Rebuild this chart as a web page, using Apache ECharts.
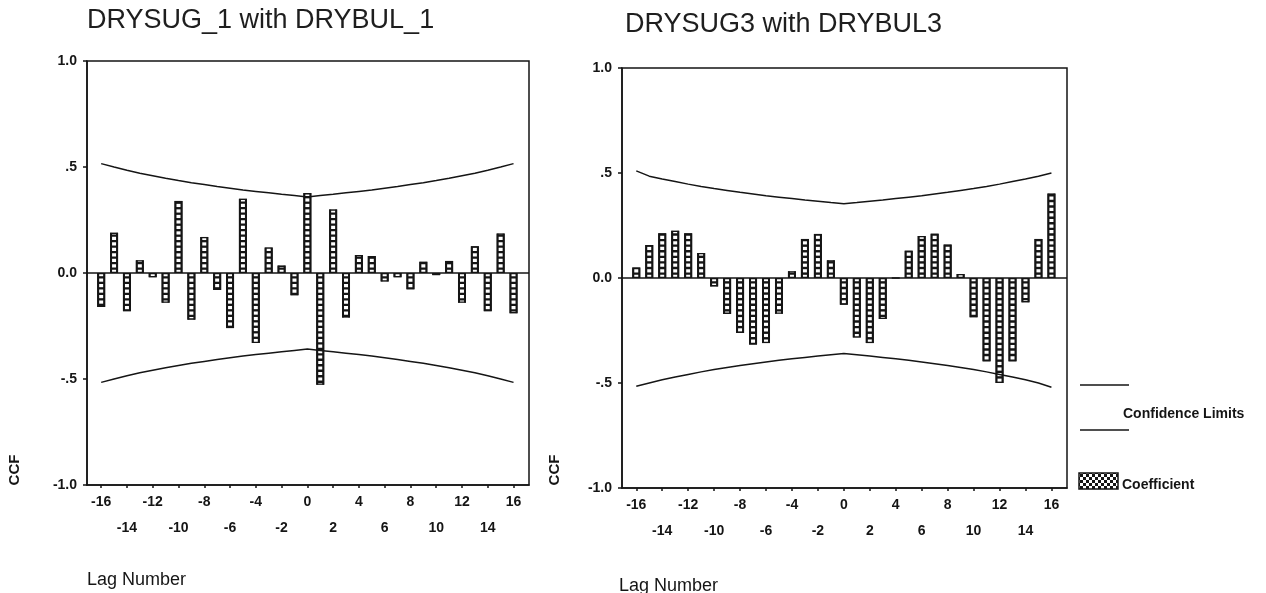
<!DOCTYPE html>
<html>
<head>
<meta charset="utf-8">
<script src="https://cdn.jsdelivr.net/npm/echarts@6/dist/echarts.min.js"></script>
<style>
  html, body { margin: 0; padding: 0; background: #ffffff; }
  #chart { width: 1266px; height: 593px; }
</style>
</head>
<body>
<div id="chart"></div>
<script>
// Lags shown on both cross-correlation plots
const lags = [-16,-15,-14,-13,-12,-11,-10,-9,-8,-7,-6,-5,-4,-3,-2,-1,0,1,2,3,4,5,6,7,8,9,10,11,12,13,14,15,16];
const lagTicks = [-16,-14,-12,-10,-8,-6,-4,-2,0,2,4,6,8,10,12,14,16];

// DRYSUG_1 with DRYBUL_1
const ccf1 = [-0.16, 0.19, -0.18, 0.06, -0.02, -0.14, 0.34, -0.22, 0.17, -0.08, -0.26, 0.35, -0.33, 0.12, 0.035, -0.105,
              0.377, -0.527, 0.30, -0.21, 0.085, 0.08, -0.04, -0.02, -0.077, 0.053, -0.01, 0.057, -0.14, 0.126, -0.18, 0.186, -0.19];
const upper1 = [0.516, 0.500, 0.485, 0.471, 0.459, 0.447, 0.436, 0.426, 0.417, 0.408, 0.400, 0.392, 0.385, 0.378, 0.371, 0.365,
                0.359, 0.365, 0.371, 0.378, 0.385, 0.392, 0.400, 0.408, 0.417, 0.426, 0.436, 0.447, 0.459, 0.471, 0.485, 0.500, 0.516];
const lower1 = [-0.516, -0.500, -0.485, -0.471, -0.459, -0.447, -0.436, -0.426, -0.417, -0.408, -0.400, -0.392, -0.385, -0.378, -0.371, -0.365,
                -0.359, -0.365, -0.371, -0.378, -0.385, -0.392, -0.400, -0.408, -0.417, -0.426, -0.436, -0.447, -0.459, -0.471, -0.485, -0.500, -0.516];

// DRYSUG3 with DRYBUL3
const ccf3 = [0.05, 0.157, 0.213, 0.225, 0.213, 0.119, -0.04, -0.171, -0.262, -0.317, -0.31, -0.17, 0.032, 0.186, 0.21, 0.084,
              -0.127, -0.283, -0.31, -0.195, 0.0, 0.13, 0.20, 0.211, 0.159, 0.019, -0.187, -0.397, -0.5, -0.397, -0.116, 0.186, 0.402];
const upper3 = [0.510, 0.485, 0.471, 0.459, 0.447, 0.436, 0.426, 0.417, 0.408, 0.400, 0.392, 0.385, 0.378, 0.371, 0.365, 0.359,
                0.354, 0.359, 0.365, 0.371, 0.378, 0.385, 0.392, 0.400, 0.408, 0.417, 0.426, 0.436, 0.447, 0.459, 0.471, 0.485, 0.500];
const lower3 = [-0.515, -0.500, -0.485, -0.471, -0.459, -0.447, -0.436, -0.426, -0.417, -0.408, -0.400, -0.392, -0.385, -0.378, -0.371, -0.365,
                -0.360, -0.365, -0.371, -0.378, -0.385, -0.392, -0.400, -0.408, -0.417, -0.426, -0.436, -0.447, -0.459, -0.471, -0.485, -0.500, -0.520];

const titles = ['DRYSUG_1 with DRYBUL_1', 'DRYSUG3 with DRYBUL3'];
const yTickText = { '1': '1.0', '0.5': '.5', '0': '0.0', '-0.5': '-.5', '-1': '-1.0' };
const yName = 'CCF';
const xName = 'Lag Number';
const legendLimits = 'Confidence Limits';
const legendCoef = 'Coefficient';

const INK = '#151515';
const FONT = '"Liberation Sans", Arial, sans-serif';

function pairs(values) { return lags.map((l, i) => [l, values[i]]); }

// checkered fill for the legend swatch
function checkerPattern() {
  const c = document.createElement('canvas');
  c.width = 6; c.height = 6;
  const g = c.getContext('2d');
  g.fillStyle = '#ffffff'; g.fillRect(0, 0, 6, 6);
  g.fillStyle = '#151515';
  g.fillRect(0, 0, 3, 3); g.fillRect(3, 3, 3, 3);
  return c;
}

function xAxisFor(gridIndex) {
  return {
    type: 'value', gridIndex, min: -17.1, max: 17.2,
    axisLine: { show: true, onZero: false, lineStyle: { color: INK, width: 1.5 } },
    axisTick: { show: true, customValues: lagTicks, length: 3, lineStyle: { color: INK, width: 1.5 } },
    axisLabel: {
      customValues: lagTicks, margin: 4, lineHeight: 26,
      fontFamily: FONT, fontSize: 14, fontWeight: 'bold', color: INK,
      formatter: v => ((v + 16) / 2) % 2 === 1 ? '\n' + v : String(v)
    },
    splitLine: { show: false }
  };
}

function yAxisFor(gridIndex) {
  return {
    type: 'value', gridIndex, min: -1, max: 1, interval: 0.5,
    axisLine: { show: true, onZero: false, lineStyle: { color: INK, width: 1.5 } },
    axisTick: { show: true, length: 4, lineStyle: { color: INK, width: 1.5 } },
    axisLabel: {
      margin: 10, fontFamily: FONT, fontSize: 14, fontWeight: 'bold', color: INK,
      formatter: v => yTickText[String(v)]
    },
    splitLine: { show: false }
  };
}

function seriesFor(idx, ccf, upper, lower) {
  return [
    { // solid bar body
      type: 'bar', xAxisIndex: idx, yAxisIndex: idx, data: pairs(ccf),
      barWidth: 8, barGap: '-100%', itemStyle: { color: INK }, z: 2, silent: true
    },
    { // column of small white cells inside each bar
      type: 'pictorialBar', xAxisIndex: idx, yAxisIndex: idx, data: pairs(ccf),
      symbol: 'rect', symbolSize: [4, 3.2], symbolRepeat: true, symbolMargin: 1.2,
      symbolClip: true, symbolBoundingData: [-1, 1],
      itemStyle: { color: '#ffffff' }, z: 3, silent: true
    },
    { // bar outline
      type: 'bar', xAxisIndex: idx, yAxisIndex: idx, data: pairs(ccf),
      barWidth: 8, barGap: '-100%',
      itemStyle: { color: 'transparent', borderColor: INK, borderWidth: 1.3 }, z: 4, silent: true
    },
    { // upper confidence limit, plus the zero reference line
      type: 'line', xAxisIndex: idx, yAxisIndex: idx, data: pairs(upper),
      showSymbol: false, lineStyle: { color: INK, width: 1.5 }, z: 5, silent: true,
      markLine: {
        silent: true, symbol: ['none', 'none'], label: { show: false },
        lineStyle: { color: INK, width: 1.5, type: 'solid' },
        data: [{ yAxis: 0 }]
      }
    },
    { // lower confidence limit
      type: 'line', xAxisIndex: idx, yAxisIndex: idx, data: pairs(lower),
      showSymbol: false, lineStyle: { color: INK, width: 1.5 }, z: 5, silent: true
    }
  ];
}

const chart = echarts.init(document.getElementById('chart'), null, { renderer: 'canvas' });

const textStyle = (size, weight) => ({ fontFamily: FONT, fontSize: size, fontWeight: weight || 'normal', fill: INK });

chart.setOption({
  animation: false,
  backgroundColor: '#ffffff',
  graphic: [
    { type: 'text', x: 87, y: 21, style: Object.assign({ text: titles[0], align: 'left', verticalAlign: 'middle' }, textStyle(27), { fill: '#1e1e1e' }) },
    { type: 'text', x: 625, y: 25, style: Object.assign({ text: titles[1], align: 'left', verticalAlign: 'middle' }, textStyle(27), { fill: '#1e1e1e' }) },
    { type: 'text', x: 15, y: 470, rotation: Math.PI / 2, style: Object.assign({ text: yName, align: 'center', verticalAlign: 'middle' }, textStyle(15, 'bold')) },
    { type: 'text', x: 555, y: 470, rotation: Math.PI / 2, style: Object.assign({ text: yName, align: 'center', verticalAlign: 'middle' }, textStyle(15, 'bold')) },
    { type: 'text', x: 87, y: 580, style: Object.assign({ text: xName, align: 'left', verticalAlign: 'middle' }, textStyle(18)) },
    { type: 'text', x: 619, y: 586, style: Object.assign({ text: xName, align: 'left', verticalAlign: 'middle' }, textStyle(18)) },
    // legend
    { type: 'line', shape: { x1: 1080, y1: 385, x2: 1129, y2: 385 }, style: { stroke: INK, lineWidth: 1.5 } },
    { type: 'line', shape: { x1: 1080, y1: 430, x2: 1129, y2: 430 }, style: { stroke: INK, lineWidth: 1.5 } },
    { type: 'text', x: 1123, y: 414, style: Object.assign({ text: legendLimits, align: 'left', verticalAlign: 'middle' }, textStyle(14, 'bold')) },
    { type: 'rect', shape: { x: 1079, y: 473, width: 39, height: 16 },
      style: { fill: { image: checkerPattern(), repeat: 'repeat' }, stroke: INK, lineWidth: 1.5 } },
    { type: 'text', x: 1122, y: 485, style: Object.assign({ text: legendCoef, align: 'left', verticalAlign: 'middle' }, textStyle(14, 'bold')) }
  ],
  grid: [
    { left: 87, top: 61, width: 442, height: 424, show: true, borderColor: INK, borderWidth: 1.5, backgroundColor: 'transparent' },
    { left: 622, top: 68, width: 445, height: 420, show: true, borderColor: INK, borderWidth: 1.5, backgroundColor: 'transparent' }
  ],
  xAxis: [xAxisFor(0), xAxisFor(1)],
  yAxis: [yAxisFor(0), yAxisFor(1)],
  series: [].concat(seriesFor(0, ccf1, upper1, lower1), seriesFor(1, ccf3, upper3, lower3))
});
</script>
</body>
</html>
